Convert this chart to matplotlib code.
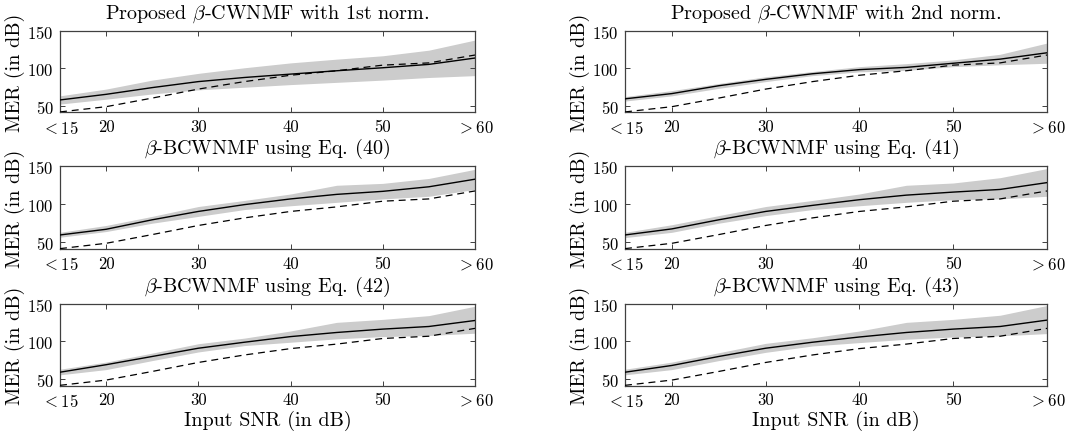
import matplotlib
matplotlib.use("Agg")
import matplotlib.pyplot as plt

plt.rcParams['font.family'] = 'serif'
plt.rcParams['font.serif'] = ['cmr10', 'DejaVu Serif']
plt.rcParams['mathtext.fontset'] = 'cm'
plt.rcParams['axes.unicode_minus'] = False
plt.rcParams['axes.formatter.use_mathtext'] = True
plt.rcParams['lines.scale_dashes'] = False

# ---------------- data ----------------
snr = [15, 20, 25, 30, 35, 40, 45, 50, 55, 60]
xtick_vals = [15, 20, 30, 40, 50, 60]
xtick_labels = [r'$<15$', '20', '30', '40', '50', r'$>60$']
ytick_vals = [50, 100, 150]

reference = [41.5, 48.5, 60, 72, 82, 90.5, 96.5, 104, 107, 117.5]

titles = [
    r'Proposed $\beta$-CWNMF with 1st norm.',
    r'Proposed $\beta$-CWNMF with 2nd norm.',
    r'$\beta$-BCWNMF using Eq. (40)',
    r'$\beta$-BCWNMF using Eq. (41)',
    r'$\beta$-BCWNMF using Eq. (42)',
    r'$\beta$-BCWNMF using Eq. (43)',
]

mean_1st = [57.5, 65, 74, 82, 87.5, 92, 96.5, 100.5, 105, 113.5]
upper_1st = [63, 72, 84, 93, 100.5, 107, 112, 116.5, 124, 137.5]
lower_1st = [52, 58.5, 65.5, 71, 74.5, 78, 81, 84, 87.5, 90]

mean_2nd = [59, 66, 76.5, 85, 92.5, 98, 101, 106.5, 112, 120.5]
upper_2nd = [62, 70, 79.5, 88.5, 95.5, 102, 106, 111, 118.5, 133.5]
lower_2nd = [56, 63, 73, 82, 90, 95, 97, 102, 104.5, 106.5]

mean_eq40 = [59.5, 67, 79.5, 90.5, 99.5, 107, 113, 117, 123, 133]
upper_eq40 = [63, 72, 84, 97, 105, 113.5, 125, 127.5, 134, 146]
lower_eq40 = [56.5, 64, 75, 84, 93, 98, 102.5, 107, 110.5, 119.5]

mean_eq41 = [59.5, 67.5, 79.5, 90.5, 98.5, 106, 112, 116, 119.5, 128.5]
upper_eq41 = [63, 73, 85, 97, 105, 113.5, 125, 128, 135, 147]
lower_eq41 = [56, 63, 75, 85, 93, 98, 102.5, 106, 107, 110.5]

mean_eq42 = [59, 69, 80, 91, 99, 106.5, 112, 116.5, 120, 128]
upper_eq42 = [63, 72.5, 84.5, 97, 104.5, 114, 125.5, 129.5, 134.5, 147]
lower_eq42 = [55.5, 62.5, 74.5, 86, 94.5, 99, 103.5, 106.5, 108, 111]

mean_eq43 = [59, 68, 80, 91, 99, 106, 112, 116.5, 120, 128.5]
upper_eq43 = [63, 72.5, 85, 97.5, 105, 114, 125.5, 129.5, 135, 148]
lower_eq43 = [55.5, 62.5, 74.5, 85.5, 94, 98.5, 103, 106, 107.5, 110.5]

panels = [
    (mean_1st, lower_1st, upper_1st),
    (mean_2nd, lower_2nd, upper_2nd),
    (mean_eq40, lower_eq40, upper_eq40),
    (mean_eq41, lower_eq41, upper_eq41),
    (mean_eq42, lower_eq42, upper_eq42),
    (mean_eq43, lower_eq43, upper_eq43),
]

# ---------------- layout ----------------
W, H = 1071, 435
fig = plt.figure(figsize=(W / 100, H / 100), dpi=100)

col_px = [(60, 475), (625, 1047)]
row_px = [(31.7, 113.3), (167.3, 250.0), (305.0, 386.7)]

spine_col = '#404040'
for i, (mean, lo, hi) in enumerate(panels):
    r, c = divmod(i, 2)
    x0, x1 = col_px[c]
    y0, y1 = row_px[r]
    ax = fig.add_axes([x0 / W, 1 - y1 / H, (x1 - x0) / W, (y1 - y0) / H])
    ax.fill_between(snr, lo, hi, color='#cccccc', linewidth=0, zorder=1)
    ax.plot(snr, reference, color='black', lw=0.9, linestyle=(0, (5, 3.5)), zorder=3)
    ax.plot(snr, mean, color='black', lw=1.0, zorder=4)
    ax.set_xlim(15, 60)
    ax.set_ylim(41, 150)
    ax.set_xticks(xtick_vals)
    ax.set_xticklabels(xtick_labels)
    ax.set_yticks(ytick_vals)
    ax.tick_params(direction='in', length=3.5, width=0.7, color=spine_col,
                   top=True, right=True, labelsize=12, pad=4.5)
    for s in ax.spines.values():
        s.set_color(spine_col)
        s.set_linewidth(0.9)
    ax.set_title(titles[i], fontsize=14.5, pad=9.5)
    ax.set_ylabel('MER (in dB)', fontsize=14.5, labelpad=2)
    if r == 2:
        ax.set_xlabel('Input SNR (in dB)', fontsize=14.5, labelpad=1)

fig.savefig('out.png', dpi=100)
